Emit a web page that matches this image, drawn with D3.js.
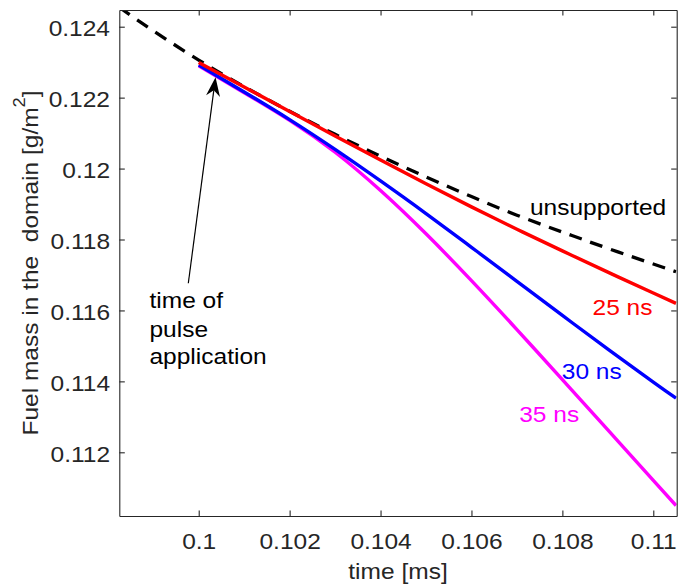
<!DOCTYPE html>
<html><head><meta charset="utf-8">
<script src="https://cdn.jsdelivr.net/npm/d3@7"></script>
<style>body{margin:0;background:#fff}svg{display:block}</style>
</head><body>
<svg id="chart" width="678" height="585"></svg>
<script>
// ---- data ----
const unsupTime = [0.09825, 0.099, 0.1, 0.101, 0.102, 0.103, 0.104, 0.105, 0.106, 0.107, 0.108, 0.109, 0.11, 0.1105];
const unsupMass = [0.12455, 0.123885, 0.12306, 0.12231, 0.121615, 0.120965, 0.12035, 0.119765, 0.11921, 0.118685, 0.11821, 0.11775, 0.11731, 0.11709];
const pulseTime = [0.1, 0.101, 0.102, 0.103, 0.104, 0.105, 0.106, 0.107, 0.108, 0.109, 0.11, 0.1105];
const mass25 = [0.12299, 0.12230, 0.12161, 0.12092, 0.12024, 0.11957, 0.11892, 0.11829, 0.11768, 0.11708, 0.11649, 0.11620];
const mass30 = [0.12292, 0.12216, 0.12138, 0.12054, 0.11965, 0.11873, 0.11778, 0.11682, 0.11586, 0.11491, 0.11398, 0.113525];
const mass35 = [0.12290, 0.12214, 0.12136, 0.12046, 0.11938, 0.11816, 0.11684, 0.11546, 0.11405, 0.11263, 0.11121, 0.11050];
const seriesNames = ["35 ns", "30 ns", "25 ns"];
const xTicks = [0.1, 0.102, 0.104, 0.106, 0.108, 0.11];
const xTickLabels = ["0.1", "0.102", "0.104", "0.106", "0.108", "0.11"];
const yTicks = [0.112, 0.114, 0.116, 0.118, 0.12, 0.122, 0.124];
const yTickLabels = ["0.112", "0.114", "0.116", "0.118", "0.12", "0.122", "0.124"];

// ---- layout ----
const L = 119.3, R = 676.7, T = 10, B = 516;
const FONT = "'Liberation Sans', Arial, Helvetica, sans-serif";
const FS = 21.5, SX = 1.14, AXC = "#262626";

const svg = d3.select("#chart");
const x = d3.scaleLinear().domain([0.098253, 0.110515]).range([L, R]);
const y = d3.scaleLinear().domain([0.110204, 0.124471]).range([B, T]);

svg.append("defs").append("clipPath").attr("id", "clip")
  .append("rect").attr("x", L).attr("y", T).attr("width", R - L).attr("height", B - T);

const line = d3.line().x(d => x(d[0])).y(d => y(d[1])).curve(d3.curveNatural);
const plot = svg.append("g").attr("clip-path", "url(#clip)");

plot.append("path").datum(d3.zip(unsupTime, unsupMass))
  .attr("d", line).attr("fill", "none").attr("stroke", "#000")
  .attr("stroke-width", 3.3).attr("stroke-dasharray", "13,9");

const series = [
  {name: seriesNames[0], vals: mass35, color: "#ff00ff"},
  {name: seriesNames[1], vals: mass30, color: "#0000ff"},
  {name: seriesNames[2], vals: mass25, color: "#ff0000"}
];
series.forEach(s => {
  plot.append("path").datum(d3.zip(pulseTime, s.vals))
    .attr("d", line).attr("fill", "none").attr("stroke", s.color)
    .attr("stroke-width", 3.4).attr("stroke-linejoin", "round");
});

// ---- axes ----
function styleAxis(g) {
  g.select(".domain").attr("stroke", AXC).attr("stroke-width", 1.1);
  g.selectAll(".tick line").attr("stroke", AXC).attr("stroke-width", 1.1);
}
const gx = svg.append("g").attr("transform", `translate(0,${B})`)
  .call(d3.axisBottom(x).tickValues(xTicks).tickFormat((d, i) => xTickLabels[i]).tickSizeInner(-5.5).tickSizeOuter(0));
styleAxis(gx);
gx.selectAll(".tick text").attr("y", 33).attr("dy", null).attr("x", 0)
  .attr("font-family", FONT).attr("font-size", FS).attr("fill", AXC)
  .attr("transform", `scale(${SX},1)`);

const gy = svg.append("g").attr("transform", `translate(${L},0)`)
  .call(d3.axisLeft(y).tickValues(yTicks).tickFormat((d, i) => yTickLabels[i]).tickSizeInner(-5.5).tickSizeOuter(0));
styleAxis(gy);
gy.selectAll(".tick text").attr("x", -9.3 / SX).attr("dy", null).attr("y", 9)
  .attr("font-family", FONT).attr("font-size", FS).attr("fill", AXC)
  .attr("transform", `scale(${SX},1)`);

const gt = svg.append("g").attr("transform", `translate(0,${T})`)
  .call(d3.axisTop(x).tickValues(xTicks).tickFormat("").tickSizeInner(-5.5).tickSizeOuter(0));
styleAxis(gt);
const gr = svg.append("g").attr("transform", `translate(${R},0)`)
  .call(d3.axisRight(y).tickValues(yTicks).tickFormat("").tickSizeInner(-5.5).tickSizeOuter(0));
styleAxis(gr);

// ---- text helper ----
function txt(px, py, str, color, anchor) {
  return svg.append("text")
    .attr("transform", `translate(${px},${py}) scale(${SX},1)`)
    .attr("text-anchor", anchor || "start")
    .attr("font-family", FONT).attr("font-size", FS).attr("fill", color || "#000")
    .text(str);
}

// axis labels
txt((L + R) / 2, 579, "time [ms]", AXC, "middle");
const yl = svg.append("text")
  .attr("transform", `translate(38.3,${(T + B) / 2}) rotate(-90) scale(${SX},1)`)
  .attr("text-anchor", "middle").attr("font-family", FONT).attr("font-size", FS).attr("fill", AXC);
yl.append("tspan").text("Fuel mass in the\u00a0\u00a0domain [g/m");
yl.append("tspan").attr("dy", -13).attr("font-size", 16).text("2");
yl.append("tspan").attr("dy", 13).text("]");

// series labels (anchored in data coordinates)
txt(x(0.107287), y(0.118691), "unsupported", "#000");
txt(x(0.108664), y(0.115872), seriesNames[2], "#ff0000");
txt(x(0.107987), y(0.114068), seriesNames[1], "#0000ff");
txt(x(0.107050), y(0.112864), seriesNames[0], "#ff00ff");

// annotation arrow
const tip = [x(0.10037), y(0.122573)], tail = [x(0.099771), y(0.116766)];
const dx = tip[0] - tail[0], dyy = tip[1] - tail[1], len = Math.hypot(dx, dyy);
const u = [dx / len, dyy / len], n = [-u[1], u[0]];
const hl = 19, hw = 7, notch = 13;
const base = [tip[0] - hl * u[0], tip[1] - hl * u[1]];
const nb = [tip[0] - notch * u[0], tip[1] - notch * u[1]];
svg.append("line").attr("x1", tail[0]).attr("y1", tail[1]).attr("x2", nb[0]).attr("y2", nb[1])
  .attr("stroke", "#000").attr("stroke-width", 1.2);
svg.append("path").attr("d", d3.line()([
  tip, [base[0] + hw * n[0], base[1] + hw * n[1]], nb, [base[0] - hw * n[0], base[1] - hw * n[1]]
]) + "Z").attr("fill", "#000");

const ax = x(0.098928) - 0.5;
txt(ax, 308.3, "time of", "#000");
txt(ax, 336.5, "pulse", "#000");
txt(ax, 364.3, "application", "#000");
</script>
</body></html>
